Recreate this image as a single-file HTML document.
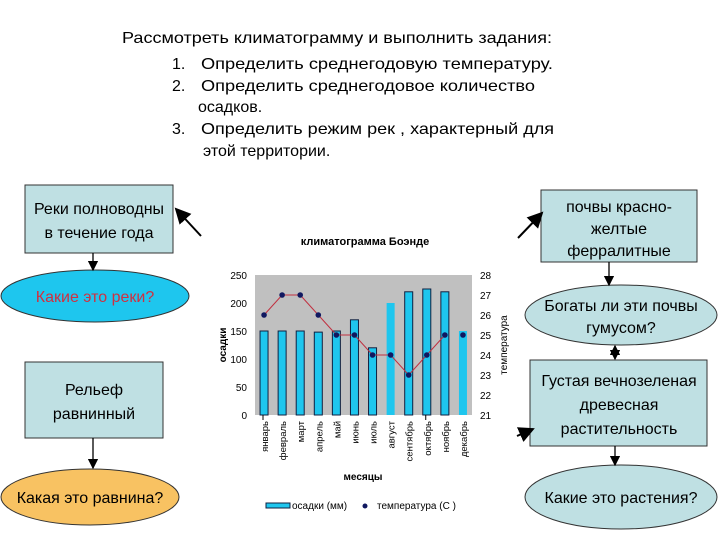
<!DOCTYPE html>
<html><head><meta charset="utf-8"><style>
body{margin:0;background:#fff;}
svg{display:block;font-family:"Liberation Sans",sans-serif;}
</style></head><body>
<svg id="s" width="720" height="540" viewBox="0 0 720 540">
<defs><marker id="ah" markerWidth="8" markerHeight="8" refX="7" refY="4" orient="auto"><path d="M0,0 L8,4 L0,8 z" fill="#000"/></marker>
<marker id="ahs" markerWidth="8" markerHeight="8" refX="1" refY="4" orient="auto"><path d="M8,0 L0,4 L8,8 z" fill="#000"/></marker></defs>
<g font-size="16" fill="#000">
<text x="122" y="43" textLength="430" lengthAdjust="spacingAndGlyphs">Рассмотреть климатограмму и выполнить задания:</text>
<text x="172" y="69">1.</text><text x="201" y="69" textLength="352" lengthAdjust="spacingAndGlyphs">Определить среднегодовую температуру.</text>
<text x="172" y="91">2.</text><text x="201" y="91" textLength="334" lengthAdjust="spacingAndGlyphs">Определить среднегодовое количество</text>
<text x="198" y="112">осадков.</text>
<text x="172" y="134">3.</text><text x="201" y="134" textLength="353" lengthAdjust="spacingAndGlyphs">Определить режим рек , характерный для</text>
<text x="203" y="156">этой территории.</text>
</g>
<g font-size="16" text-anchor="middle">
<rect x="25" y="185" width="148" height="68" fill="#bfe0e3" stroke="#333"/>
<text x="99" y="214">Реки полноводны</text><text x="99" y="238">в течение года</text>
<ellipse cx="95" cy="296" rx="94" ry="26" fill="#1ec6ee" stroke="#333"/>
<text x="95" y="302" fill="#d03040">Какие это реки?</text>
<rect x="25" y="362" width="138" height="76" fill="#bfe0e3" stroke="#333"/>
<text x="94" y="395">Рельеф</text><text x="94" y="419">равнинный</text>
<ellipse cx="90" cy="497" rx="89" ry="28" fill="#f8c262" stroke="#333"/>
<text x="90" y="503">Какая это равнина?</text>
<rect x="541" y="190" width="156" height="72" fill="#bfe0e3" stroke="#333"/>
<text x="619" y="212">почвы красно-</text><text x="619" y="234">желтые</text><text x="619" y="256">ферралитные</text>
<ellipse cx="621" cy="315" rx="96" ry="30" fill="#bfe0e3" stroke="#333"/>
<text x="621" y="311">Богаты ли эти почвы</text><text x="621" y="333">гумусом?</text>
<rect x="530" y="360" width="177" height="86" fill="#bfe0e3" stroke="#333"/>
<text x="619" y="386">Густая вечнозеленая</text><text x="619" y="410">древесная</text><text x="619" y="434">растительность</text>
<ellipse cx="621" cy="497" rx="96" ry="32" fill="#bfe0e3" stroke="#333"/>
<text x="621" y="503">Какие это растения?</text>
</g>
<g stroke="#000" stroke-width="1.3">
<line x1="93" y1="253" x2="93" y2="270" marker-end="url(#ah)"/>
<line x1="93" y1="438" x2="93" y2="468" marker-end="url(#ah)"/>
<line x1="201" y1="236" x2="176" y2="209" stroke-width="2" marker-end="url(#ah)"/>
<line x1="518" y1="238" x2="542" y2="213" stroke-width="2" marker-end="url(#ah)"/>
<line x1="609" y1="262" x2="609" y2="285" marker-end="url(#ah)"/>
<line x1="615" y1="346" x2="615" y2="359" marker-end="url(#ah)" marker-start="url(#ahs)"/>
<line x1="615" y1="446" x2="615" y2="465" marker-end="url(#ah)"/>
<line x1="517" y1="436" x2="533" y2="429" stroke-width="2" marker-end="url(#ah)"/>
</g>
<text x="365" y="245" font-size="11" font-weight="bold" text-anchor="middle">климатограмма Боэнде</text>
<g id="chart"></g>
</svg>
<script>
const months=["январь","февраль","март","апрель","май","июнь","июль","август","сентябрь","октябрь","ноябрь","декабрь"];
const precip=[150,150,150,148,150,170,120,200,220,225,220,150];
const temps=[26,27,27,26,25,25,24,24,23,24,25,25];
const leftTicks=[0,50,100,150,200,250];
const rightTicks=[21,22,23,24,25,26,27,28];
const NS="http://www.w3.org/2000/svg";
const g=document.getElementById('chart');
const L=255,R=472,T=275,B=415;
const yL=v=>B-(v/250)*(B-T);
const yR=v=>B-((v-21)/7)*(B-T);
const step=(R-L)/months.length;
const xc=i=>L+step*(i+0.5);
function mk(t,a,p){const e=document.createElementNS(NS,t);for(const k in a)e.setAttribute(k,a[k]);(p||g).appendChild(e);return e;}
const bg=mk('rect',{x:L,y:T,width:R-L,height:B-T,fill:'#c0c0c0'});


leftTicks.forEach(v=>{const t=mk('text',{x:L-8,y:yL(v)+4,'font-size':10,'text-anchor':'end'});t.textContent=v;

});
rightTicks.forEach(v=>{const t=mk('text',{x:R+8,y:yR(v)+4,'font-size':10});t.textContent=v;

});
precip.forEach((v,i)=>{const noB=(i==7||i==11);const r=mk('rect',{x:xc(i)-4,y:yL(v),width:8,height:B-yL(v),fill:'#1ec6ee',stroke:noB?'none':'#102040','stroke-width':1});


const t=mk('text',{transform:`translate(${xc(i)+4},${B+6}) rotate(-90)`,'font-size':9.5,'text-anchor':'end'});t.textContent=months[i];

});
mk('line',{x1:L+8,y1:B,x2:L+8,y2:B+5,stroke:'#000'});
mk('line',{x1:L+8+step*9,y1:B,x2:L+8+step*9,y2:B+5,stroke:'#000'});
const pts=temps.slice(0,11).map((v,i)=>xc(i)+','+yR(v)).join(' ');
const pl=mk('polyline',{points:pts,fill:'none',stroke:'#c03040','stroke-width':1});


temps.forEach((v,i)=>{const c=mk('circle',{cx:xc(i),cy:yR(v),r:2.8,fill:'#101860'});

});
let t=mk('text',{transform:'translate(226,345) rotate(-90)','font-size':10,'font-weight':'bold','text-anchor':'middle'});t.textContent='осадки';


t=mk('text',{transform:'translate(507,345) rotate(-90)','font-size':10,'text-anchor':'middle'});t.textContent='температура';


t=mk('text',{x:363,y:480,'font-size':10,'font-weight':'bold','text-anchor':'middle'});t.textContent='месяцы';


const lg=mk('g',{});


mk('rect',{x:266,y:503,width:24,height:5,fill:'#1ec6ee',stroke:'#102040'},lg);
t=mk('text',{x:292,y:509,'font-size':10},lg);t.textContent='осадки (мм)';
mk('circle',{cx:365,cy:506,r:2.5,fill:'#101860'},lg);
t=mk('text',{x:377,y:509,'font-size':10},lg);t.textContent='температура (С )';
</script>
</body></html>
